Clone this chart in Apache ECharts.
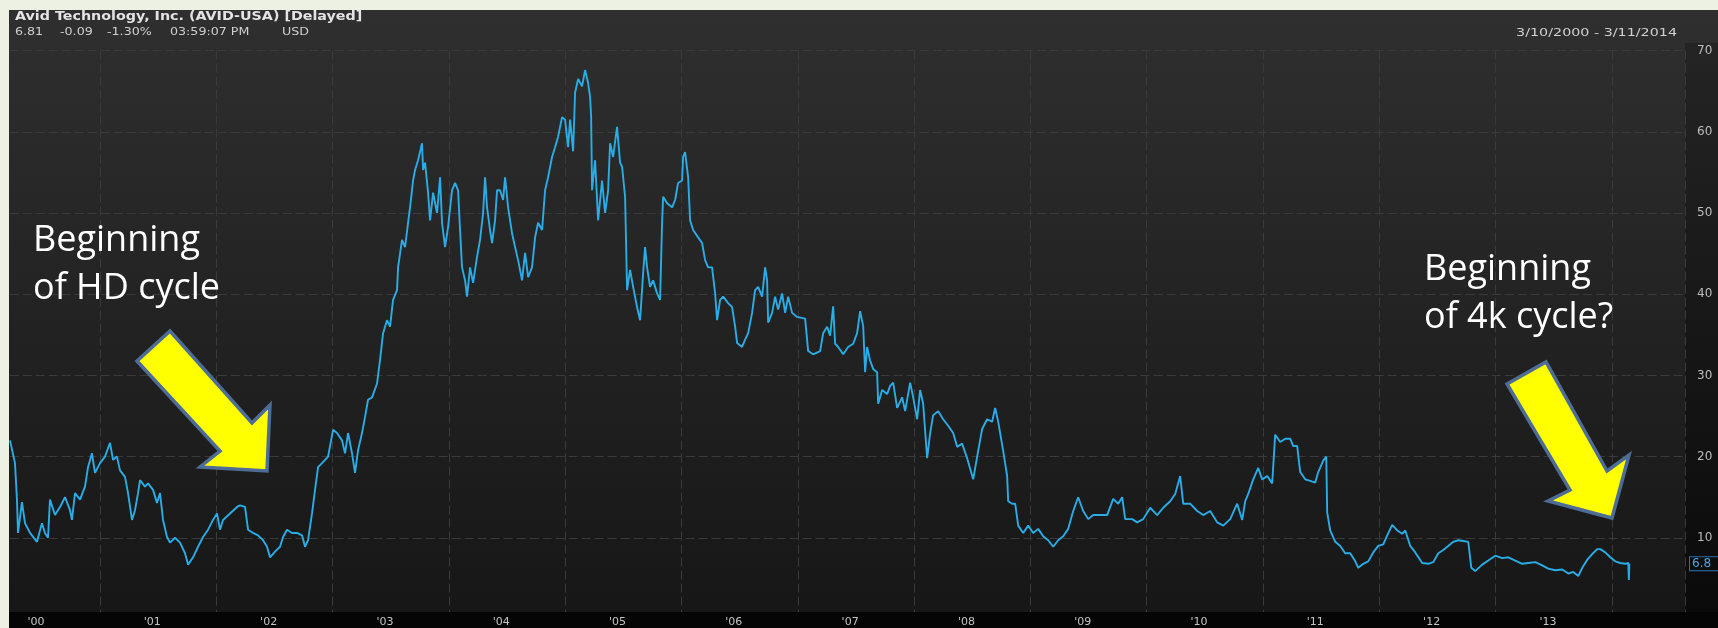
<!DOCTYPE html>
<html>
<head>
<meta charset="utf-8">
<script src="https://cdn.jsdelivr.net/npm/echarts@6/dist/echarts.min.js"></script>
<style>
html,body{margin:0;padding:0;background:#edf1e4;}
#chart{width:1718px;height:628px;}
</style>
</head>
<body>
<div id="chart"></div>
<script>
// ---- data (decimal years, closing price in USD) ----
const years = [
2000.226,2000.269,2000.286,2000.295,2000.329,2000.355,2000.398,2000.458,2000.501,2000.527,2000.553,2000.570,2000.613,2000.656,2000.699,2000.742,2000.759,2000.785,2000.828,2000.871,2000.897,2000.931,2000.957,
2001.000,2001.043,2001.086,2001.112,2001.146,2001.172,2001.215,2001.241,2001.275,2001.301,2001.327,2001.344,2001.387,2001.413,2001.456,2001.490,2001.516,2001.542,2001.576,2001.602,2001.645,2001.688,2001.731,2001.757,2001.800,2001.843,2001.886,2001.929,2001.972,
2002.006,2002.032,2002.058,2002.118,2002.178,2002.204,2002.247,2002.273,2002.316,2002.359,2002.402,2002.436,2002.462,2002.505,2002.548,2002.574,2002.608,2002.651,2002.694,2002.737,2002.763,2002.789,2002.823,2002.849,2002.875,2002.909,2002.961,
2003.004,2003.038,2003.081,2003.107,2003.133,2003.167,2003.193,2003.219,2003.253,2003.279,2003.305,2003.339,2003.382,2003.408,2003.434,2003.468,2003.494,2003.520,2003.554,2003.563,2003.597,2003.623,2003.649,2003.666,2003.692,2003.709,2003.735,2003.769,2003.778,2003.795,2003.821,2003.838,2003.864,2003.898,2003.924,2003.941,2003.967,2003.993,
2004.027,2004.053,2004.079,2004.096,2004.113,2004.139,2004.156,2004.182,2004.208,2004.242,2004.268,2004.294,2004.311,2004.328,2004.354,2004.371,2004.397,2004.414,2004.440,2004.466,2004.483,2004.509,2004.543,2004.569,2004.595,2004.629,2004.655,2004.681,2004.715,2004.741,2004.767,2004.801,2004.827,2004.853,2004.887,2004.913,2004.939,2004.973,2004.999,
2005.025,2005.042,2005.068,2005.085,2005.111,2005.145,2005.171,2005.197,2005.214,2005.223,2005.231,2005.257,2005.283,2005.317,2005.343,2005.369,2005.386,2005.412,2005.446,2005.472,2005.489,2005.515,2005.532,2005.558,2005.584,2005.618,2005.644,2005.670,2005.687,2005.704,2005.730,2005.756,2005.790,2005.816,2005.833,2005.842,2005.876,2005.919,2005.945,2005.971,
2006.005,2006.014,2006.031,2006.057,2006.074,2006.100,2006.143,2006.177,2006.203,2006.229,2006.263,2006.289,2006.306,2006.332,2006.358,2006.401,2006.435,2006.461,2006.478,2006.521,2006.547,2006.573,2006.607,2006.633,2006.659,2006.693,2006.719,2006.736,2006.745,2006.779,2006.805,2006.831,2006.865,2006.891,2006.917,2006.951,2006.994,
2007.063,2007.089,2007.132,2007.192,2007.218,2007.252,2007.278,2007.304,2007.321,2007.347,2007.390,2007.433,2007.476,2007.510,2007.536,2007.562,2007.579,2007.596,2007.622,2007.648,2007.682,2007.691,2007.725,2007.768,2007.794,2007.820,2007.854,2007.897,2007.923,2007.966,2007.992,
2008.026,2008.052,2008.078,2008.112,2008.138,2008.164,2008.207,2008.250,2008.293,2008.336,2008.370,2008.413,2008.456,2008.508,2008.551,2008.585,2008.628,2008.671,2008.697,2008.723,2008.740,2008.766,2008.800,2008.809,2008.843,2008.869,2008.895,2008.938,2008.981,
2009.024,2009.067,2009.110,2009.153,2009.196,2009.239,2009.282,2009.325,2009.368,2009.411,2009.454,2009.497,2009.540,2009.600,2009.660,2009.712,2009.755,2009.789,2009.815,2009.875,2009.918,2009.970,
2010.030,2010.090,2010.142,2010.202,2010.245,2010.288,2010.314,2010.374,2010.434,2010.486,2010.546,2010.606,2010.658,2010.718,2010.778,2010.821,2010.847,2010.873,2010.916,2010.959,2010.993,
2011.036,2011.079,2011.105,2011.148,2011.191,2011.234,2011.260,2011.294,2011.320,2011.363,2011.406,2011.449,2011.475,2011.518,2011.544,2011.552,2011.578,2011.621,2011.664,2011.707,2011.750,2011.793,2011.819,2011.862,2011.905,2011.948,2011.991,
2012.034,2012.068,2012.111,2012.154,2012.197,2012.223,2012.266,2012.309,2012.369,2012.421,2012.464,2012.507,2012.550,2012.593,2012.636,2012.679,2012.722,2012.765,2012.791,2012.825,2012.885,2012.937,2012.997,
2013.057,2013.109,2013.169,2013.229,2013.281,2013.341,2013.401,2013.453,2013.513,2013.573,2013.625,2013.668,2013.711,2013.745,2013.788,2013.831,2013.874,2013.900,2013.943,2013.986,
2014.029,2014.072,2014.115,2014.141,2014.146,2014.150
];
const prices = [
22,19.2,14.7,10.6,14.4,11.8,10.6,9.5,11.8,10.6,10,14.7,12.8,13.8,15,13.4,12.2,15.5,14.7,16.3,18.7,20.4,18,
19.2,20,21.7,19.6,20,18.3,17.5,15.5,12.2,13.4,15.5,17.1,16.3,16.7,15.9,14.3,15.5,12.2,10.1,9.4,10,9.4,8.1,6.7,7.6,8.9,10.1,11,12.2,
13,11,12.2,13,13.8,14,13.8,11,10.6,10.3,9.7,8.9,7.6,8.3,8.9,10.1,11,10.6,10.6,10.3,8.9,9.7,13,15.9,18.7,19.2,20,
23.3,22.9,22,20.4,22.9,20.4,18,20.8,22.9,24.9,27,27.3,29,31.9,35.2,36.8,36,39.3,40.5,43.3,46.7,45.8,48.8,50.7,54,55.3,56.5,58.6,55.3,56.2,52.5,49.1,52.5,50,54.4,48.8,45.8,48.3,
52.8,53.7,52.8,47.9,43.3,41.7,39.7,43.3,41.4,44.6,46.7,50,54.4,50.7,47.9,46.3,49.1,52.8,52.8,51.6,54.4,50.7,47.5,45.8,44.2,41.7,45.1,42.1,43.3,47,48.8,47.9,52.8,54.4,56.9,58.1,59.4,61.8,61.5,
58.1,61.5,57.6,64.8,66.5,65.6,67.6,66,64.3,61.8,52.8,56.5,49.1,54,50,52.8,58.6,56.9,60.6,56.2,55.7,52,40.5,43,40.9,38.4,36.8,42.6,45.8,43.3,40.9,41.7,40.1,39.3,48.8,52,51.2,50.7,51.6,53.7,
54,56.9,57.5,54.4,49.1,47.9,47,46.3,44.2,43.3,43.3,40.1,36.8,39.3,39.7,38.9,38.4,36,34,33.5,34.4,35.2,37.7,40.5,40.9,39.7,43.3,41.7,36.5,37.7,39.7,38.1,40.1,37.7,39.7,37.7,37.2,
37,33,32.6,33,35.2,36,34.9,38.5,33.9,33.5,32.6,33.5,33.9,35.2,37.9,36.1,30.4,33.5,31.8,30.8,30.4,26.5,28.2,27.7,28.7,29.1,26,27.3,25.6,29.1,27.3,
24.6,28.2,26.5,19.8,22.9,25.1,25.6,24.6,23.8,22.9,21.2,21.6,19.8,17.2,20.7,23.4,24.6,24.3,26,24.3,22.9,20.7,17.6,14.5,14.2,14.2,11.5,10.6,11.5,
10.6,11.1,10.2,9.7,8.9,9.7,10.2,11.1,13.3,15,13.3,12.3,12.8,12.8,12.8,14.8,14.2,15,12.3,12.3,11.9,12.3,
13.7,12.8,13.7,14.5,15.4,17.6,14.2,14.2,13.3,12.8,13.3,11.9,11.5,12.3,14.2,12.2,14.5,15.4,17.2,18.6,17.2,
17.6,16.7,22.7,21.8,22.2,22.2,21.3,21.3,18.1,17.2,17,16.8,18.1,19.5,20,13.1,10.9,9.5,9,8.1,8.1,7.1,6.3,6.8,7.1,8.2,9,
9.2,10.3,11.6,10.9,10.5,10.9,9,8.2,6.9,6.8,7,8.1,8.5,9,9.5,9.7,9.6,9.5,6.3,5.9,6.7,7.2,7.8,
7.5,7.6,7.2,6.8,6.9,7,6.6,6.2,6,6.1,5.6,5.8,5.3,6.3,7.3,8,8.6,8.6,8.2,7.6,
7.1,6.9,6.8,6.9,4.8,6.81
];
const yearLabels = ["'00","'01","'02","'03","'04","'05","'06","'07","'08","'09","'10","'11","'12","'13"];
const lastPrice = 6.81;
const lastPriceLabel = '6.8';
const headerTitle = 'Avid Technology, Inc. (AVID-USA) [Delayed]';
const quoteParts = ['6.81', '-0.09', '-1.30%', '03:59:07 PM', 'USD'];
const dateRange = '3/10/2000 - 3/11/2014';
const noteLeft = ['Beginning', 'of HD cycle'];
const noteRight = ['Beginning', 'of 4k cycle?'];

// ---- layout ----
const W = 1718, H = 628;
const PX_PER_YEAR = 116.3;
const gridLeft = 100 - PX_PER_YEAR;         // Jan 1 2001 lands at x=100
const plotRight = 1685;
const xMax = 2000 + (plotRight - gridLeft) / PX_PER_YEAR;
const labelShift = 0.45 * PX_PER_YEAR;
const gridTop = 50.6, gridBottom = 9;

const chart = echarts.init(document.getElementById('chart'), null, {renderer: 'canvas', width: W, height: H});

const grad = (a, b) => new echarts.graphic.LinearGradient(0, 0, 0, 1, [{offset: 0, color: a}, {offset: 1, color: b}]);
const gridLineStyle = {color: '#3a3a3a', type: [9, 4], width: 1};

const quoteX = [15, 60, 107, 170, 282];
const graphics = [
  {type: 'rect', z: -10, silent: true, shape: {x: 9, y: 10, width: W - 9, height: H - 10}, style: {fill: grad('#2f2f2f', '#161616')}},
  {type: 'rect', z: -5, silent: true, shape: {x: plotRight, y: 43, width: W - plotRight, height: 569}, style: {fill: grad('#242424', '#0a0a0a')}},
  {type: 'rect', z: 1, silent: true, shape: {x: 9, y: 612, width: W - 9, height: 16}, style: {fill: '#050505'}},
  {type: 'rect', z: 50, silent: true, shape: {x: 0, y: 0, width: 9, height: H}, style: {fill: '#edf1e4'}},
  {type: 'rect', z: 50, silent: true, shape: {x: 0, y: 0, width: W, height: 10}, style: {fill: '#edf1e4'}},
  {type: 'text', z: 20, x: 15, y: 17, scaleX: 1.19, style: {text: headerTitle, fill: '#e4e4e4', font: 'bold 12px "DejaVu Sans"', align: 'left', verticalAlign: 'middle'}},
  {type: 'text', z: 20, x: 1677, y: 33, scaleX: 1.3, style: {text: dateRange, fill: '#d0d0d0', font: '11px "DejaVu Sans"', align: 'right', verticalAlign: 'middle'}}
];
quoteParts.forEach((t, i) => {
  graphics.push({type: 'text', z: 20, x: quoteX[i], y: 32, scaleX: 1.15, style: {text: t, fill: '#cfcfcf', font: '11px "DejaVu Sans"', align: 'left', verticalAlign: 'middle'}});
});
const arrowStyle = {fill: '#ffff00', stroke: '#4d6c96', lineWidth: 3.5, lineJoin: 'miter'};
graphics.push(
  {type: 'polygon', z: 20, silent: true, shape: {points: [[137,361],[170,331],[252,423],[270,405],[267,471],[200,467],[220,451]]}, style: arrowStyle},
  {type: 'polygon', z: 20, silent: true, shape: {points: [[1507,384],[1546,362],[1607,471],[1629,455],[1612,518],[1548,501],[1570,490]]}, style: arrowStyle}
);
const noteFont = '36px "Open Sans"';
noteLeft.forEach((t, i) => graphics.push({type: 'text', z: 20, x: 33, y: 241 + i * 48, style: {text: t, fill: '#ffffff', font: noteFont, align: 'left', verticalAlign: 'middle'}}));
noteRight.forEach((t, i) => graphics.push({type: 'text', z: 20, x: 1424, y: 270 + i * 48, style: {text: t, fill: '#ffffff', font: noteFont, align: 'left', verticalAlign: 'middle'}}));

const option = {
  backgroundColor: 'transparent',
  animation: false,
  grid: [
    {left: gridLeft, right: W - plotRight, top: gridTop, bottom: gridBottom, containLabel: false, outerBoundsMode: 'none'},
    {left: gridLeft + labelShift, right: W - plotRight - labelShift, top: gridTop, bottom: gridBottom, containLabel: false, outerBoundsMode: 'none'}
  ],
  xAxis: [
    {gridIndex: 0, type: 'value', min: 2000, max: xMax, interval: 1,
     axisLine: {show: false}, axisTick: {show: false}, axisLabel: {show: false},
     splitLine: {show: true, lineStyle: gridLineStyle}},
    {gridIndex: 1, type: 'value', min: 2000, max: xMax, interval: 1, z: 5,
     axisLine: {show: false}, axisTick: {show: false}, splitLine: {show: false},
     axisLabel: {show: true, margin: 3, verticalAlign: 'middle', color: '#c4c4c4', fontFamily: 'DejaVu Sans', fontSize: 11,
       showMinLabel: true, showMaxLabel: true, hideOverlap: false,
       formatter: v => { const i = Math.round(v - 2000); return (Math.abs(v - 2000 - i) < 1e-6 && i >= 0 && i < yearLabels.length) ? yearLabels[i] : ''; }}}
  ],
  yAxis: [
    {gridIndex: 0, type: 'value', position: 'right', min: 0, max: 70, interval: 10,
     axisLine: {show: false}, axisTick: {show: false},
     axisLabel: {margin: 12, color: '#bdbdbd', fontFamily: 'DejaVu Sans', fontSize: 12, formatter: v => v === 0 ? '' : String(v)},
     splitLine: {show: true, lineStyle: gridLineStyle}},
    {gridIndex: 1, type: 'value', min: 0, max: 70, show: false}
  ],
  series: [{
    type: 'line', xAxisIndex: 0, yAxisIndex: 0,
    data: years.map((y, i) => [y, prices[i]]),
    showSymbol: false, symbol: 'none', silent: true, z: 3,
    lineStyle: {color: '#2aade6', width: 1.9},
    markLine: {
      silent: true, animation: false, symbol: ['none', 'none'],
      lineStyle: {color: 'rgba(0,0,0,0)', width: 1},
      data: [{yAxis: lastPrice}],
      label: {show: true, position: 'end', distance: 5, formatter: lastPriceLabel,
        color: '#4aa6e4', fontFamily: 'DejaVu Sans', fontSize: 12,
        borderColor: '#2e6fae', borderWidth: 1, padding: [1, 9, 0, 2], backgroundColor: '#0d0d0d'}
    }
  }],
  graphic: graphics
};
chart.setOption(option);
</script>
</body>
</html>
